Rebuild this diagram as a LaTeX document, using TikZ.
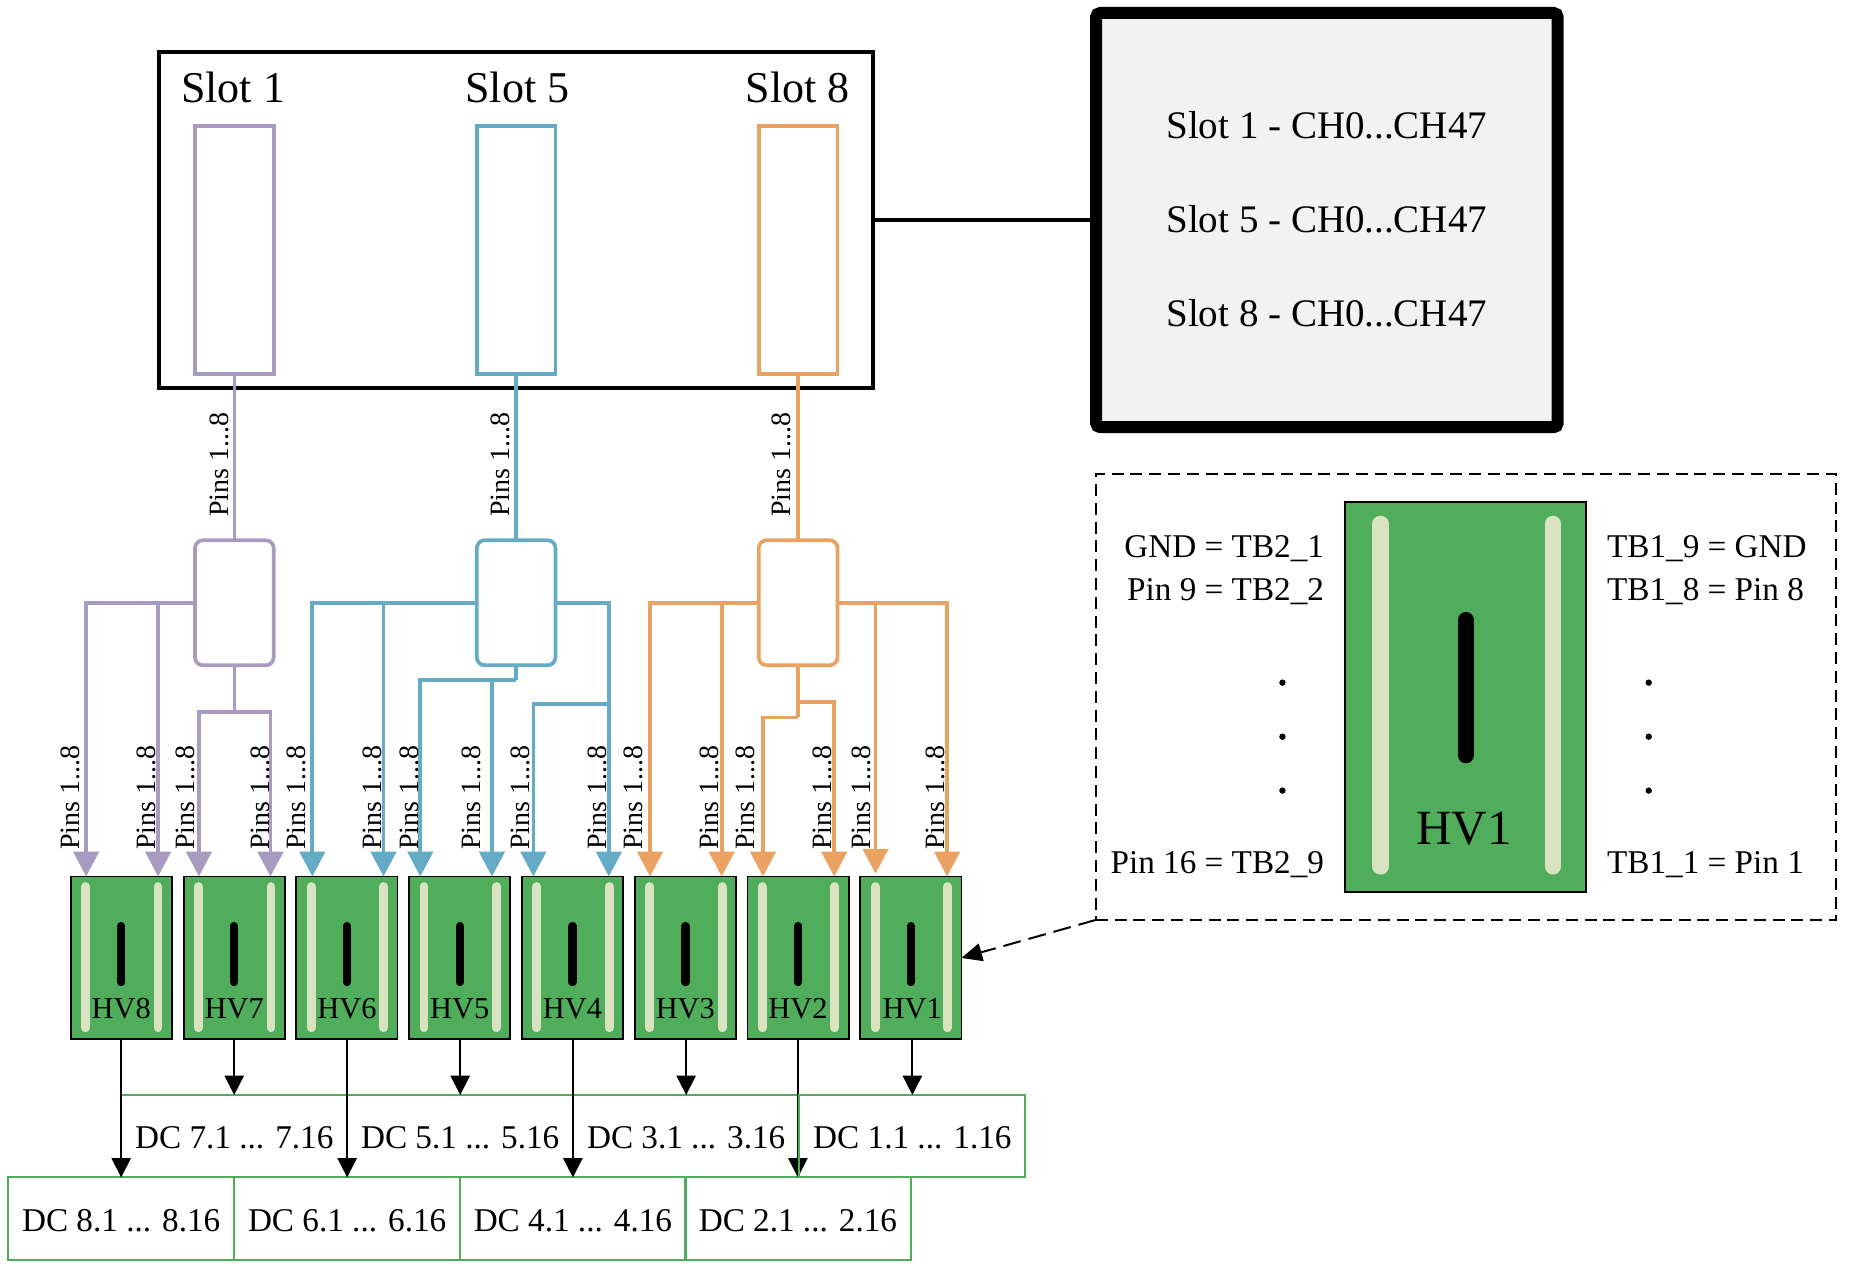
\documentclass[tikz,border=0pt]{standalone}
\usepackage{fontspec}
\setmainfont{Liberation Serif}
\usetikzlibrary{arrows.meta,calc}
\definecolor{cpur}{HTML}{A99ABF}
\definecolor{cblu}{HTML}{66ABC5}
\definecolor{cora}{HTML}{EAA263}
\definecolor{cgrn}{HTML}{4FAD5B}
\definecolor{cstr}{HTML}{DAE3C1}
\definecolor{cpan}{HTML}{F2F2F2}
\tikzset{
  x=0.59pt,y=-0.59pt,
  every node/.style={outer sep=0pt,inner sep=0pt,text=black},
  slotbox/.style={draw,line width=1.85pt,minimum width=66.7*0.59pt,minimum height=210.2*0.59pt},
  hubbox/.style={draw,line width=1.85pt,rounded corners=4pt,minimum width=66.7*0.59pt,minimum height=106*0.59pt},
  wire/.style={line width=1.85pt},
  tip/.style={wire,-{Triangle[length=12.4pt,width=12.6pt]}},
  blk/.style={line width=1.1pt,-{Triangle[length=9.7pt,width=9.6pt]}},
  pinlab/.style={rotate=90,font=\fontsize{14}{14}\selectfont},
  dcbox/.style={draw=cgrn,line width=1pt,minimum width=191.6*0.59pt,minimum height=69.9*0.59pt,text height=12.4pt,text depth=0pt,font=\fontsize{16.6}{16.6}\selectfont},
  hvboard/.style={draw=black,line width=0.9pt,fill=cgrn,minimum width=85.7*0.59pt,minimum height=138*0.59pt},
  strp/.style={draw=cstr,line cap=round,line width=4.4pt},
  core/.style={draw=black,line cap=round,line width=4.2pt},
  maplab/.style={font=\fontsize{16.6}{16.6}\selectfont},
  slotlab/.style={font=\fontsize{22}{22}\selectfont},
  inflab/.style={font=\fontsize{19.5}{19.5}\selectfont},
}
\newcommand{\board}[4]{%
  \node[hvboard] (#1) at (#2,811.8) {};
  \draw[strp] ($(#1.north west)+(12.6,8.5)$) -- ($(#1.south west)+(12.6,-9.8)$);
  \draw[strp] ($(#1.north west)+(74,8.5)$) -- ($(#1.south west)+(74,-9.8)$);
  \draw[core] ($(#1.north)+(0,42)$) -- ($(#1.north)+(0,89.4)$);
  \node[font=\fontsize{15.2}{15.2}\selectfont] (#1lab) at ($(#1.north)+(#4,111.8)$) {#3};
}
\begin{document}
\begin{tikzpicture}
\useasboundingbox (0,0) rectangle (1567.8,1074.7);
% chassis
\node[draw,line width=2pt,minimum width=605*0.59pt,minimum height=285.2*0.59pt] (crate) at (437.1,186.4) {};
\node[slotlab] (s1t) at (197.5,74.5) {Slot 1};
\node[slotlab] (s5t) at (438.5,74.5) {Slot 5};
\node[slotlab] (s8t) at (676,74.5) {Slot 8};
\node[slotbox,draw=cpur] (s1) at (198.6,211.9) {};
\node[slotbox,draw=cblu] (s5) at (437.4,211.9) {};
\node[slotbox,draw=cora] (s8) at (676.4,211.9) {};
\node[hubbox,draw=cpur] (h1) at (198.6,510.8) {};
\node[hubbox,draw=cblu] (h5) at (437.4,510.8) {};
\node[hubbox,draw=cora] (h8) at (676.4,510.8) {};
% info panel
\node[draw,line width=6pt,fill=cpan,rounded corners=2pt,minimum width=391*0.59pt,minimum height=351*0.59pt] (info) at (1124.5,186.5) {};
\node[inflab] (i1) at (1124.4,105.9) {Slot 1 - CH0...CH47};
\node[inflab] (i2) at (1124.4,185.9) {Slot 5 - CH0...CH47};
\node[inflab] (i3) at (1124.4,265.5) {Slot 8 - CH0...CH47};
\draw[line width=2pt,black] (crate.east |- info.west) -- (info.west);
% boards
\board{hv8}{102.7}{HV8}{0}
\board{hv7}{198.5}{HV7}{0}
\board{hv6}{294}{HV6}{0}
\board{hv5}{389.6}{HV5}{0}
\board{hv4}{485.2}{HV4}{0}
\board{hv3}{580.8}{HV3}{0}
\board{hv2}{676.3}{HV2}{0}
\board{hv1}{771.9}{HV1}{1.2}
% tap coordinates
\foreach \n/\x in {a/73,b/134,c/168.6,d/229.2,e/264.7,f/325,g/356.2,h/416.9,i/452,j/516,k/550.9,l/611.6,m/646.6,n/707,p/802.6}
  \coordinate (t\n) at (\x,742.8);
\coordinate (to) at (742,740.4);
\coordinate (q1) at (198.6,603.2);
\coordinate (q2) at (437.4,576.3);
\coordinate (q3) at (516,596.6);
\coordinate (q4) at (676.4,608);
\coordinate (q5) at (676.4,595);
\coordinate (r1) at (134,510.8);
\coordinate (r2) at (325,510.8);
\coordinate (r4) at (611.6,510.8);
\coordinate (r5) at (742,510.8);
\coordinate (r6) at (416.9,576.3);
% feed wires
\draw[wire,cpur] (s1.south) -- (h1.north);
\draw[wire,cblu] (s5.south) -- (h5.north);
\draw[wire,cora] (s8.south) -- (h8.north);
% purple
\draw[tip,cpur] (h1.west) -| (ta);
\draw[tip,cpur] (r1) -- (tb);
\draw[wire,cpur] (h1.south) -- (q1);
\draw[tip,cpur] (q1) -| (tc);
\draw[tip,cpur] (q1) -| (td);
% blue
\draw[tip,cblu] (h5.west) -| (te);
\draw[tip,cblu] (r2) -- (tf);
\draw[wire,cblu] (h5.south) -- (q2);
\draw[tip,cblu] (q2) -| (tg);
\draw[tip,cblu] (r6) -- (th);
\draw[tip,cblu] (h5.east) -| (tj);
\draw[tip,cblu] (q3) -| (ti);
% orange
\draw[tip,cora] (h8.west) -| (tk);
\draw[tip,cora] (r4) -- (tl);
\draw[wire,cora] (h8.south) -- (q4);
\draw[tip,cora] (q4) -| (tm);
\draw[tip,cora] (q5) -| (tn);
\draw[tip,cora] (h8.east) -| (tp);
\draw[tip,cora] (r5) -- (to);
% pin labels
\foreach \n/\x/\y in {p1/185.9/393.8,p2/423.7/393.8,p3/662.5/393.8,
  p4/59.5/675.8,p5/124.3/675.8,p6/156.9/675.8,p7/220.4/675.8,p8/251.5/675.8,p9/315.5/675.8,p10/346.9/675.8,p11/399.6/675.8,p12/441.4/675.8,p13/506/675.8,p14/536.4/675.8,p15/601.2/675.8,p16/631.6/675.8,p17/697.1/675.8,p18/729.6/675.8,p19/793.1/675.8}
  \node[pinlab] (\n) at (\x,\y) {Pins 1...8};
% DC boxes
\node[dcbox] (d7) at (198.5,962.9) {DC 7.1 ... 7.16};
\node[dcbox] (d5) at (390,962.9) {DC 5.1 ... 5.16};
\node[dcbox] (d3) at (581.5,962.9) {DC 3.1 ... 3.16};
\node[dcbox] (d8) at (102.7,1032.8) {DC 8.1 ... 8.16};
\node[dcbox] (d6) at (294.2,1032.8) {DC 6.1 ... 6.16};
\node[dcbox] (d4) at (485.5,1032.8) {DC 4.1 ... 4.16};
\node[dcbox] (d2) at (676.2,1032.8) {DC 2.1 ... 2.16};
\foreach \b/\d in {hv8/d8,hv7/d7,hv6/d6,hv5/d5,hv4/d4,hv3/d3,hv2/d2}
  \draw[blk] (\d.north |- \b.south) -- (\d.north);
% DC 1 outline lies over the HV2 arrow
\node[dcbox] (d1) at (773.2,962.9) {DC 1.1 ... 1.16};
\draw[blk] (d1.north |- hv1.south) -- (d1.north);
% detail panel
\node[draw,line width=1pt,dash pattern=on 6pt off 3.4pt,minimum width=627.6*0.59pt,minimum height=377.6*0.59pt] (det) at (1242.4,590.8) {};
\node[draw=black,line width=1pt,fill=cgrn,minimum width=204.3*0.59pt,minimum height=331.2*0.59pt] (big) at (1242.2,590.6) {};
\draw[draw=cstr,line cap=round,line width=8.1pt] ($(big.north west)+(29.8,18.9)$) -- ($(big.south west)+(29.8,-21.9)$);
\draw[draw=cstr,line cap=round,line width=8.1pt] ($(big.north west)+(176,18.9)$) -- ($(big.south west)+(176,-21.9)$);
\draw[draw=black,line cap=round,line width=8.1pt] ($(big.north)+(0,100.5)$) -- ($(big.north)+(0,215)$);
\node[font=\fontsize{24.6}{24.6}\selectfont] (bigl) at (1240.8,702) {HV1};
\node[maplab,anchor=base east] (l1) at (1122,472.5) {GND = TB2\_1};
\node[maplab,anchor=base east] (l2) at (1122,508.7) {Pin 9 = TB2\_2};
\node[maplab,anchor=base east] (l3) at (1122,740.3) {Pin 16 = TB2\_9};
\node[maplab,anchor=base west] (r1t) at (1362,472.5) {TB1\_9 = GND};
\node[maplab,anchor=base west] (r2t) at (1362,508.7) {TB1\_8 = Pin 8};
\node[maplab,anchor=base west] (r3t) at (1362,740.3) {TB1\_1 = Pin 1};
\foreach \x in {1086.8,1397.2} \foreach \y in {578.5,624.3,670}
  \fill (\x,\y) circle (1.6pt);
\draw[dash pattern=on 9pt off 4pt,line width=1pt,-{Triangle[length=10.3pt,width=9pt]}] (det.south west) -- (hv1.east);
\end{tikzpicture}
\end{document}
